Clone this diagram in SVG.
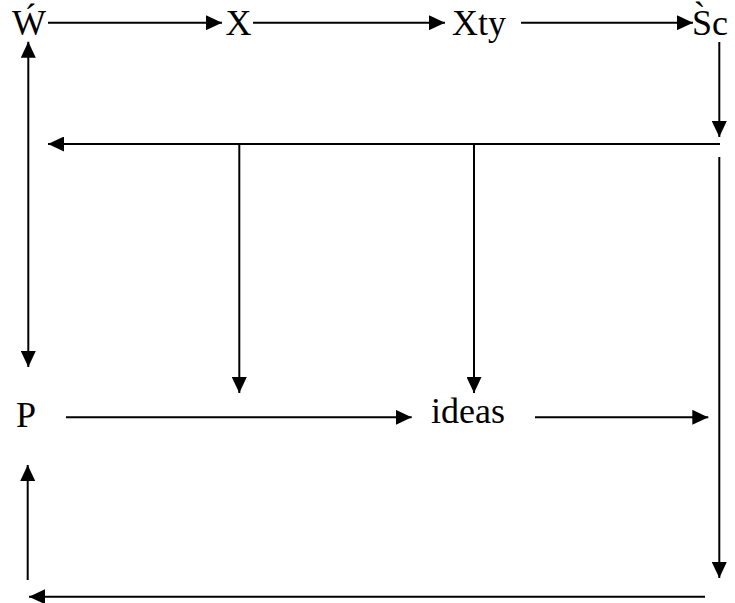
<svg xmlns="http://www.w3.org/2000/svg" width="735" height="603" viewBox="0 0 735 603">
<defs>
<marker id="ah" viewBox="0 0 16 15" refX="16" refY="7.5" markerWidth="16" markerHeight="15" markerUnits="userSpaceOnUse" orient="auto">
<path d="M0,0 L16,7.5 L0,15 Z" fill="#000"/>
</marker>
<marker id="ahs" viewBox="0 0 16 15" refX="16" refY="7.5" markerWidth="16" markerHeight="15" markerUnits="userSpaceOnUse" orient="auto-start-reverse">
<path d="M0,0 L16,7.5 L0,15 Z" fill="#000"/>
</marker>
</defs>
<style>
.c{stroke:#000;stroke-width:2;fill:none}
.a{marker-end:url(#ah)}
text{font-family:"Liberation Serif","Times New Roman",serif;font-size:36px;fill:#000}
</style>
<rect width="735" height="603" fill="#fff"/>
<g id="connectors">
<line class="c a" x1="48" y1="22.7" x2="222" y2="22.7"/>
<line class="c a" x1="253" y1="22.7" x2="445" y2="22.7"/>
<line class="c a" x1="521" y1="22.7" x2="693" y2="22.7"/>
<line class="c a" x1="719.3" y1="42" x2="719.3" y2="137"/>
<line class="c a" x1="720" y1="144" x2="48" y2="144"/>
<line class="c a" x1="239.3" y1="144" x2="239.3" y2="393"/>
<line class="c a" x1="474" y1="144" x2="474" y2="393"/>
<line class="c a" x1="28.3" y1="367" x2="28.3" y2="41.7" marker-start="url(#ahs)"/>
<line class="c a" x1="66" y1="417.3" x2="411.7" y2="417.3"/>
<line class="c a" x1="535" y1="417.3" x2="708.3" y2="417.3"/>
<line class="c a" x1="719.3" y1="157" x2="719.3" y2="578"/>
<line class="c a" x1="705" y1="596.7" x2="29" y2="596.7"/>
<line class="c a" x1="27.7" y1="580" x2="27.7" y2="465"/>
</g>
<g id="node-W"><text x="29" y="34.5" text-anchor="middle">Ẃ</text></g>
<g id="node-X"><text x="238.5" y="34.5" text-anchor="middle">X</text></g>
<g id="node-Xty"><text x="452" y="34.5">Xty</text></g>
<g id="node-Sc"><text x="692" y="34.5">S̀c</text></g>
<g id="node-P"><text x="16" y="427">P</text></g>
<g id="node-ideas"><text x="431" y="423">ideas</text></g>
</svg>
